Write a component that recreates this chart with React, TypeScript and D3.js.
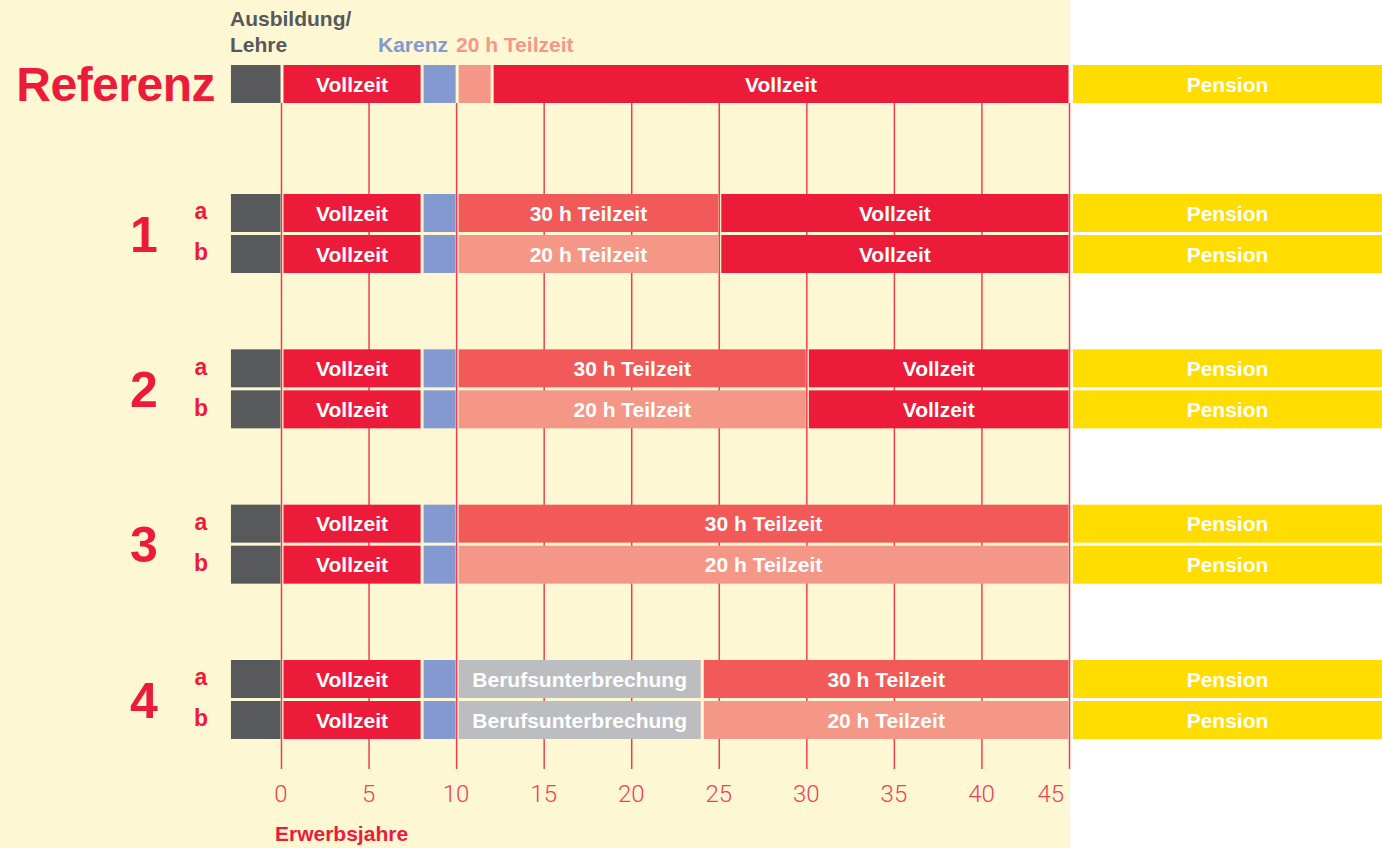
import React from 'react';
import * as d3 from 'd3';

// segments: [kind, startYear, endYear]
type Seg = [string, number, number];

const referenz: Seg[] = [['aus', -3, 0], ['voll', 0, 8], ['karenz', 8, 10], ['t20', 10, 12], ['voll', 12, 45], ['pension', 45, 63]];
const row1a: Seg[] = [['aus', -3, 0], ['voll', 0, 8], ['karenz', 8, 10], ['t30', 10, 25], ['voll', 25, 45], ['pension', 45, 63]];
const row1b: Seg[] = [['aus', -3, 0], ['voll', 0, 8], ['karenz', 8, 10], ['t20', 10, 25], ['voll', 25, 45], ['pension', 45, 63]];
const row2a: Seg[] = [['aus', -3, 0], ['voll', 0, 8], ['karenz', 8, 10], ['t30', 10, 30], ['voll', 30, 45], ['pension', 45, 63]];
const row2b: Seg[] = [['aus', -3, 0], ['voll', 0, 8], ['karenz', 8, 10], ['t20', 10, 30], ['voll', 30, 45], ['pension', 45, 63]];
const row3a: Seg[] = [['aus', -3, 0], ['voll', 0, 8], ['karenz', 8, 10], ['t30', 10, 45], ['pension', 45, 63]];
const row3b: Seg[] = [['aus', -3, 0], ['voll', 0, 8], ['karenz', 8, 10], ['t20', 10, 45], ['pension', 45, 63]];
const row4a: Seg[] = [['aus', -3, 0], ['voll', 0, 8], ['karenz', 8, 10], ['unterbr', 10, 24], ['t30', 24, 45], ['pension', 45, 63]];
const row4b: Seg[] = [['aus', -3, 0], ['voll', 0, 8], ['karenz', 8, 10], ['unterbr', 10, 24], ['t20', 24, 45], ['pension', 45, 63]];

const groups = ['1', '2', '3', '4'];
const groupRows: Seg[][][] = [[row1a, row1b], [row2a, row2b], [row3a, row3b], [row4a, row4b]];
const subLabels = ['a', 'b'];
const ticks = [0, 5, 10, 15, 20, 25, 30, 35, 40, 45];

const kindColor: Record<string, string> = {
  aus: '#58595b',
  voll: '#ed1b3a',
  karenz: '#8499cf',
  t20: '#f59787',
  t30: '#f15a59',
  unterbr: '#bcbdc0',
  pension: '#ffdd00',
};
const kindLabel: Record<string, string> = {
  voll: 'Vollzeit',
  t20: '20 h Teilzeit',
  t30: '30 h Teilzeit',
  unterbr: 'Berufsunterbrechung',
  pension: 'Pension',
};

const W = 1382;
const H = 848;
const RED = '#ed1b3a';
const FONT = '"Liberation Sans", Arial, sans-serif';

const x = d3.scaleLinear().domain([0, 45]).range([282, 1070]);
const groupY = d3.scaleLinear().domain([0, 3]).range([194, 660]);
const barH = 38;
const rowStep = 41;
const refY = 65;

function Bar({ segs, y }: { segs: Seg[]; y: number }) {
  return (
    <g>
      {segs.map(([k, a, b], i) => {
        // pension block sits a little further right, past the cream panel
        const x0 = x(a) + (k === 'pension' ? 3 : 1.5);
        const x1 = Math.min(x(b) - 1.5, W);
        return (
          <g key={i}>
            <rect x={x0} y={y} width={x1 - x0} height={barH} fill={kindColor[k]} />
            {kindLabel[k] && b - a >= 5 && (
              <text
                x={(x0 + x1) / 2}
                y={y + barH / 2}
                dy="0.36em"
                textAnchor="middle"
                fill="#fff"
                fontFamily={FONT}
                fontWeight="bold"
                fontSize={21}
              >
                {kindLabel[k]}
              </text>
            )}
          </g>
        );
      })}
    </g>
  );
}

export default function App() {
  return (
    <svg
      width={W}
      height={H}
      style={{ position: 'absolute', left: 0, top: 0, display: 'block' }}
    >
      <rect x={0} y={0} width={W} height={H} fill="#fff" />
      <rect x={0} y={0} width={x(45)} height={H} fill="#fdf7d3" />

      {/* gridlines behind bars */}
      {ticks.map((t) => (
        <line
          key={t}
          x1={x(t) - 0.5}
          x2={x(t) - 0.5}
          y1={refY + barH}
          y2={769}
          stroke="#ef3e54"
          strokeWidth={1.5}
        />
      ))}

      {/* header legend */}
      <g fontFamily={FONT} fontWeight="bold" fontSize={21}>
        <text x={230} y={26} fill="#58595b">Ausbildung/</text>
        <text x={230} y={52} fill="#58595b">Lehre</text>
        <text x={378} y={52} fill="#8499cf">Karenz</text>
        <text x={456} y={52} fill="#f59787">20 h Teilzeit</text>
      </g>

      <text
        x={215}
        y={refY + barH / 2}
        dy="0.36em"
        textAnchor="end"
        fill={RED}
        fontFamily={FONT}
        fontWeight="bold"
        fontSize={48}
        letterSpacing={-0.5}
      >
        Referenz
      </text>
      <Bar segs={referenz} y={refY} />

      {groups.map((g, gi) => {
        const top = groupY(gi);
        return (
          <g key={g}>
            <text
              x={144}
              y={top + (rowStep + barH) / 2}
              dy="0.36em"
              textAnchor="middle"
              fill={RED}
              fontFamily={FONT}
              fontWeight="bold"
              fontSize={50}
            >
              {g}
            </text>
            {groupRows[gi].map((segs, ri) => (
              <g key={ri}>
                <text
                  x={201}
                  y={top + ri * rowStep + barH / 2 - 2}
                  dy="0.36em"
                  textAnchor="middle"
                  fill={RED}
                  fontFamily={FONT}
                  fontWeight="bold"
                  fontSize={23}
                >
                  {subLabels[ri]}
                </text>
                <Bar segs={segs} y={top + ri * rowStep} />
              </g>
            ))}
          </g>
        );
      })}

      {/* axis labels */}
      {ticks.map((t, i) => (
        <text
          key={t}
          x={i === ticks.length - 1 ? x(t) - 6 : x(t) - 1}
          y={802}
          textAnchor={i === ticks.length - 1 ? 'end' : 'middle'}
          fill="#ef3f55"
          fontFamily="Roboto, sans-serif"
          fontWeight={300}
          fontSize={24}
        >
          {t}
        </text>
      ))}
      <text
        x={275}
        y={841}
        fill={RED}
        fontFamily={FONT}
        fontWeight="bold"
        fontSize={21}
      >
        Erwerbsjahre
      </text>
    </svg>
  );
}
